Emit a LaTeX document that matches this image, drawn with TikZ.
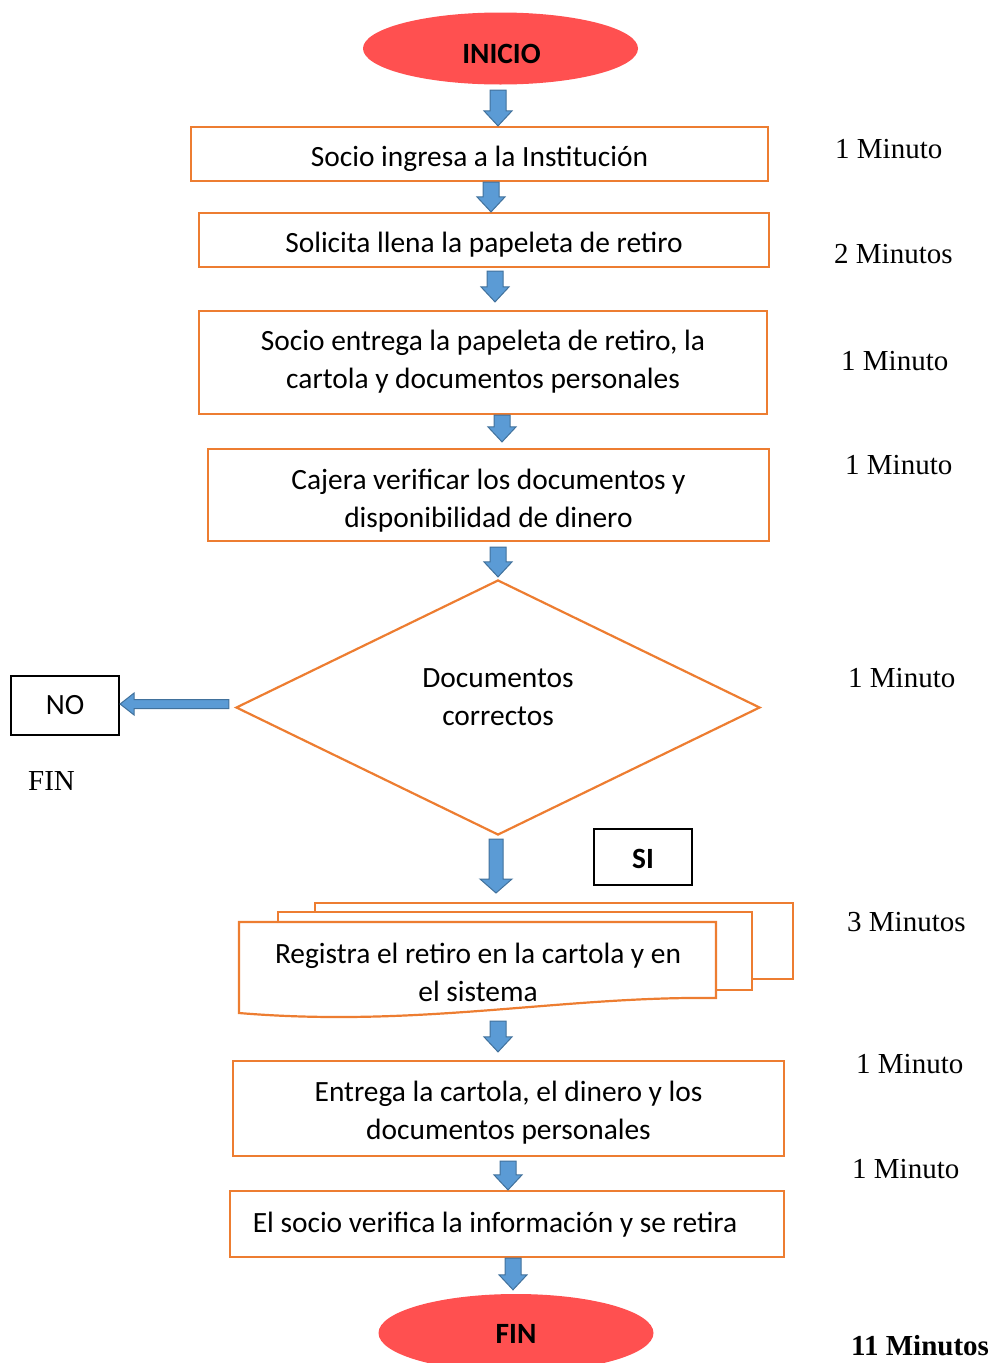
\documentclass[tikz,border=0pt]{standalone}
\usepackage{fontspec}
\setmainfont{Carlito}
\newfontfamily\timesf{Liberation Serif}
\usetikzlibrary{shapes.geometric,calc}
\definecolor{orng}{HTML}{ED7D31}
\definecolor{ablue}{HTML}{5B9BD5}
\definecolor{aedge}{HTML}{41719C}
\definecolor{tred}{HTML}{FF5050}
\tikzset{
  box/.style={draw=orng, line width=2.2pt, fill=white, inner sep=0pt},
  term/.style={ellipse, fill=tred, inner sep=0pt, minimum width=275pt, minimum height=72pt},
  termtxt/.style={inner sep=0pt, font=\fontsize{29.4}{35}\selectfont\bfseries},
  bbox/.style={draw=black, line width=2.2pt, inner sep=0pt, font=\fontsize{29.4}{35}\selectfont},
  timelbl/.style={anchor=west, inner sep=0pt, font=\timesf\fontsize{29}{35}\selectfont},
  txt/.style={inner sep=0pt, align=center, font=\fontsize{29.4}{38}\selectfont},
  blockarrow/.style={fill=ablue, draw=aedge, line width=1pt, line join=miter}
}
\newcommand\blkdown[5]{%
  \path[blockarrow] let \p1=#4, \p2=#5 in
    (\x1-#1,\y1) -- (\x1+#1,\y1) -- (\x1+#1,\y2+#3) -- (\x1+#2,\y2+#3) -- (\x1,\y2)
    -- (\x1-#2,\y2+#3) -- (\x1-#1,\y2+#3) -- cycle;}
\newcommand\blkleft[5]{%
  \path[blockarrow] let \p1=#4, \p2=#5 in
    (\x1,\y1+#1) -- (\x1,\y1-#1) -- (\x2+#3,\y1-#1) -- (\x2+#3,\y1-#2) -- (\x2,\y1)
    -- (\x2+#3,\y1+#2) -- (\x2+#3,\y1+#1) -- cycle;}
\begin{document}
\begin{tikzpicture}[x=1pt,y=-1pt]
\useasboundingbox (0,0) rectangle (997,1363);

% terminals
\node[term] (inicio) at (500.5,48.5) {};
\node[termtxt] (inicioT) at ([yshift=-5pt,xshift=1pt]inicio.center) {INICIO};
\node[term, minimum height=78pt] (fin) at (516,1333) {};
\node[termtxt] (finT) at ([yshift=-1pt]fin.center) {FIN};

% process boxes
\node[box, minimum width=577pt, minimum height=54pt] (b1) at (479.5,154) {};
\node[txt] (b1T) at ([yshift=-5pt]b1.center) {Socio ingresa a la Institución};
\node[box, minimum width=570pt, minimum height=54pt] (b2) at (484,240) {};
\node[txt] (b2T) at ([yshift=-5pt]b2.center) {Solicita llena la papeleta de retiro};
\node[box, minimum width=568pt, minimum height=103pt] (b3) at (483,362.5) {};
\node[txt] (b3T) at ([yshift=1pt]b3.center) {Socio entrega la papeleta de retiro, la\\cartola y documentos personales};
\node[box, minimum width=561pt, minimum height=92pt] (b4) at (488.5,495) {};
\node[txt] (b4T) at ([yshift=-5.5pt]b4.center) {Cajera verificar los documentos y\\disponibilidad de dinero};

% decision
\node[diamond, draw=orng, line width=2.2pt, inner sep=0pt, minimum width=524pt, minimum height=255pt] (dec) at (498,707.5) {};
\node[txt] (dectxt) at (498,697) {Documentos\\correctos};

% NO / SI
\node[bbox, minimum width=108pt, minimum height=59pt] (no) at (65,705.5) {NO};
\node[timelbl] (finlbl) at (28,781) {FIN};
\node[bbox, minimum width=98pt, minimum height=56pt, font=\fontsize{29.4}{35}\selectfont\bfseries] (si) at (643,857) {};
\node[termtxt] (siT) at ([yshift=-2pt]si.center) {SI};

% multidocument
\draw[draw=orng, line width=2.2pt, fill=white] (315,903) rectangle (793,979);
\draw[draw=orng, line width=2.2pt, fill=white] (278,912) rectangle (752,990);
\draw[draw=orng, line width=2.2pt, fill=white, line join=miter]
  (239,922) -- (716,922) -- (716,998) .. controls (560,996) and (420,1028) .. (239,1013) -- cycle;
\node[txt] (reg) at (478,972) {Registra el retiro en la cartola y en\\el sistema};
\coordinate (regtop) at (496,903);
\coordinate (regbot) at (498,1015);

\node[box, minimum width=551pt, minimum height=95pt] (b7) at (508.5,1108.5) {};
\node[txt] (b7T) at ([yshift=-4pt]b7.center) {Entrega la cartola, el dinero y los\\documentos personales};
\node[box, minimum width=554pt, minimum height=66pt] (b8) at (507,1224) {};
\node[txt] (b8T) at (495,1225) {El socio verifica la información y se retira};

% arrows
\blkdown{8pt}{14pt}{15pt}{([yshift=-5.5pt]inicio.south -| 498,0)}{(b1.north -| 498,0)}
\blkdown{8pt}{14pt}{15pt}{(b1.south -| 491,0)}{(b2.north -| 491,0)}
\blkdown{8pt}{14pt}{15pt}{([yshift=-3pt]b2.south -| 495,0)}{([yshift=8pt]b3.north -| 495,0)}
\blkdown{8pt}{14pt}{15pt}{(b3.south -| 502,0)}{([yshift=6pt]b4.north -| 502,0)}
\blkdown{8pt}{14pt}{15pt}{([yshift=-5pt]b4.south -| 498,0)}{([yshift=2pt]dec.north -| 498,0)}
\blkdown{7pt}{16pt}{14pt}{([yshift=-3pt]dec.south -| 496,0)}{([yshift=10pt]regtop)}
\blkleft{4.5pt}{11pt}{14pt}{([xshift=-6pt]dec.west |- 0,704)}{(no.east |- 0,704)}
\blkdown{8pt}{14pt}{15pt}{([yshift=-6pt]regbot)}{([yshift=8pt]b7.north -| 498,0)}
\blkdown{8pt}{14pt}{15pt}{([yshift=-4pt]b7.south -| 508,0)}{(b8.north -| 508,0)}
\blkdown{8pt}{14pt}{15pt}{(b8.south -| 513,0)}{([yshift=4pt]fin.north -| 513,0)}

% times
\node[timelbl] (t1) at (835,149) {1 Minuto};
\node[timelbl] (t2) at (834,254) {2 Minutos};
\node[timelbl] (t3) at (841,361) {1 Minuto};
\node[timelbl] (t4) at (845,465) {1 Minuto};
\node[timelbl] (t5) at (848,678) {1 Minuto};
\node[timelbl] (t6) at (847,922) {3 Minutos};
\node[timelbl] (t7) at (856,1064) {1 Minuto};
\node[timelbl] (t8) at (852,1169) {1 Minuto};
\node[timelbl, font=\timesf\fontsize{29}{35}\selectfont\bfseries] (tt) at (851,1346) {11 Minutos};
\end{tikzpicture}
\end{document}
